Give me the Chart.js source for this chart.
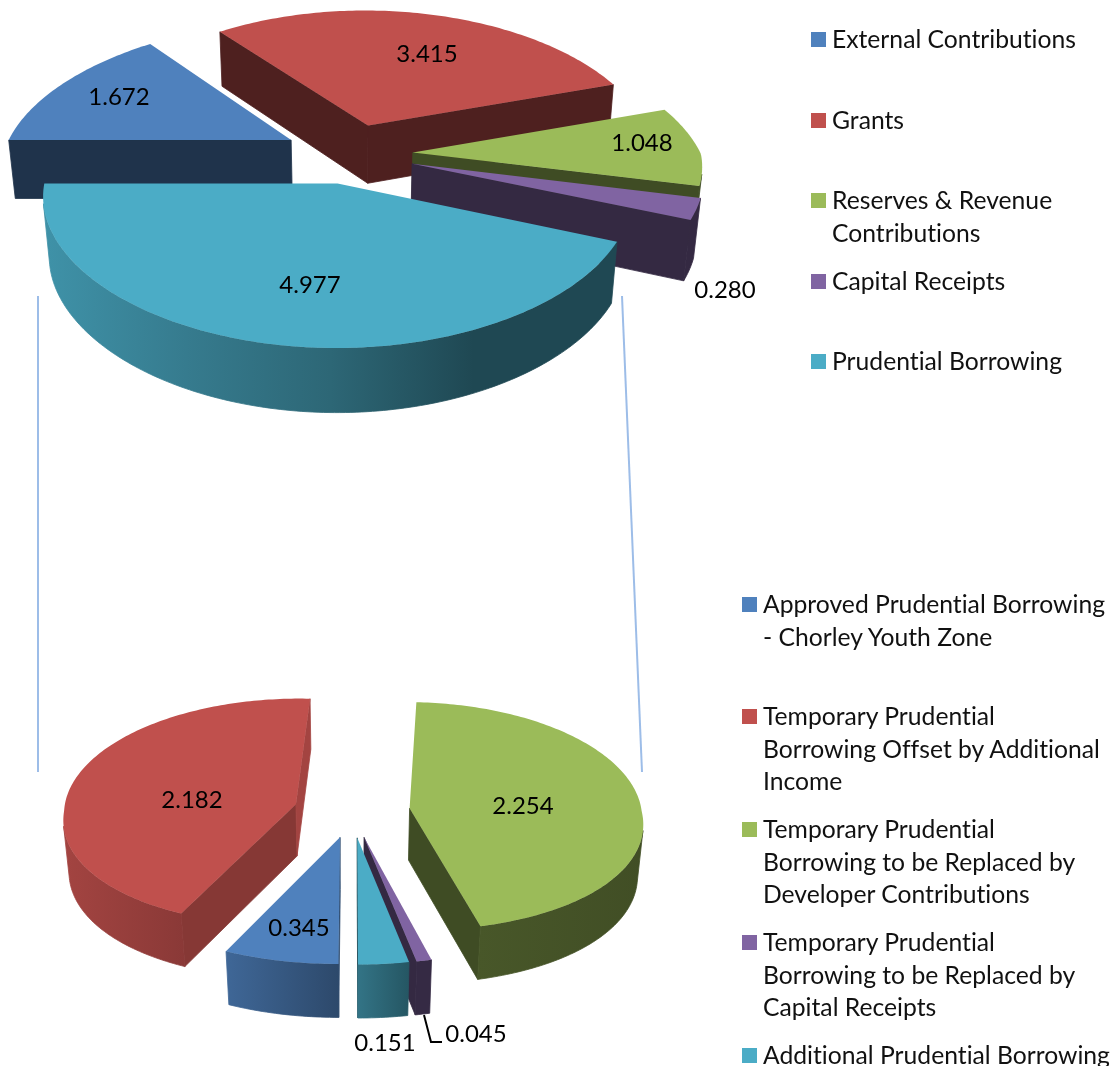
<!DOCTYPE html>
<html><head><meta charset="utf-8">
<script src="https://cdn.jsdelivr.net/npm/chart.js@4"></script>
<style>
html,body{margin:0;padding:0;background:#fff;width:1115px;height:1066px;overflow:hidden}
canvas{position:absolute;left:0;top:0}
.lg{position:absolute;font:24.7px Lato,sans-serif;font-variant-ligatures:none;color:#111;line-height:32.5px;white-space:nowrap}
.sw{position:absolute;width:15px;height:15px}
</style></head><body>
<canvas id="top" width="1115" height="1066"></canvas>
<canvas id="bot" width="1115" height="1066"></canvas>
<script>
const COLORS=["#4F81BD","#C0504D","#9BBB59","#8064A2","#4BACC6"];
const CATEGORIES_TOP=["External Contributions","Grants","Reserves & Revenue Contributions","Capital Receipts","Prudential Borrowing"];
const VALUES_TOP=[1.672,3.415,1.048,0.280,4.977];
const LABELS_TOP=["1.672","3.415","1.048","0.280","4.977"];
const CATEGORIES_BOTTOM=["Approved Prudential Borrowing - Chorley Youth Zone","Temporary Prudential Borrowing Offset by Additional Income","Temporary Prudential Borrowing to be Replaced by Developer Contributions","Temporary Prudential Borrowing to be Replaced by Capital Receipts","Additional Prudential Borrowing"];
const VALUES_BOTTOM=[0.345,2.182,2.254,0.045,0.151];
const LABELS_BOTTOM=["0.345","2.182","2.254","0.045","0.151"];
const LEGEND_LINES_TOP=[["External Contributions"],["Grants"],["Reserves & Revenue","Contributions"],["Capital Receipts"],["Prudential Borrowing"]];
const LEGEND_LINES_BOTTOM=[["Approved Prudential Borrowing","- Chorley Youth Zone"],["Temporary Prudential","Borrowing Offset by Additional","Income"],["Temporary Prudential","Borrowing to be Replaced by","Developer Contributions"],["Temporary Prudential","Borrowing to be Replaced by","Capital Receipts"],["Additional Prudential Borrowing"]];

const VIEW_TOP={cx:350,cy:154,R:288,explode:[67,65,63,65,62],rotation:270,k:.472,p:.125,pxBack:.19,pxFront:.085,q:.02,d:60,
  order:[0,1,2,3,4],
  wall:[[.4,.4],[.41,.41],[.41,.41],[.41,.41],[.42,.42]],
  rim:[[.4,.4],[.41,.41],[.41,.41],[.41,.41],[.85,.72,.6,.42,.42]],
  labelPos:[[119,97],[427,54],[642,143],[725,290],[310,285]],
  lines:[{c:"#9DBDE8",w:2,p:[[38,296],[38,772]]},{c:"#9DBDE8",w:2,p:[[622,296],[642,772]]}]};
const VIEW_BOTTOM={cx:352,cy:811,R:232,explode:[54,58,58,54,54],rotation:180,k:.491,p:.07,pxBack:.07,pxFront:.115,q:.02,d:53,
  order:[1,2,0,3,4],
  wall:[[.6,.6],[.7,.85],[.41,.41],[.41,.41],[.41,.41]],
  rim:[[.8,.57],[.85,.72],[.47,.42],[.42,.42],[.68,.5]],
  labelPos:[[299,928],[192,800],[523,806],[476,1034],[385,1043]],
  lines:[{c:"#000",w:2,p:[[424,1015],[431,1042],[442,1042]]}]};

function shade(hex,f){const n=parseInt(hex.slice(1),16);
  return `rgb(${((n>>16&255)*f)|0},${((n>>8&255)*f)|0},${((n&255)*f)|0})`;}
function poly(ctx,pts,fill,seal){ctx.beginPath();pts.forEach((p,i)=>i?ctx.lineTo(p[0],p[1]):ctx.moveTo(p[0],p[1]));ctx.closePath();ctx.fillStyle=fill;ctx.fill();
  if(seal){ctx.strokeStyle=fill;ctx.lineWidth=.8;ctx.stroke();}}
function area(q){let a=0;for(let i=0;i<q.length;i++){const u=q[i],v=q[(i+1)%q.length];a+=u[0]*v[1]-v[0]*u[1];}return a/2;}

const pie3d={id:"pie3d",
  beforeDatasetDraw(chart,args,v){
    const ctx=chart.ctx,arcs=chart.getDatasetMeta(0).data;
    v.order.forEach(i=>{
      const arc=arcs[i],o=arc.options;
      const {x:cx,y:cy,startAngle:a0,endAngle:a1,outerRadius:R}=arc.getProps(["x","y","startAngle","endAngle","outerRadius"]);
      const base=o.backgroundColor,mid=(a0+a1)/2,off=(o.offset||0)/4;
      const ox=Math.cos(mid)*off,oy=Math.sin(mid)*off;
      const P=(X,Y,z)=>{
        const s=1/(1-v.p*Y/R+v.q*z);
        const sx=1/(1-(Y<0?v.pxBack:v.pxFront)*Y/R+v.q*z);
        return [cx+X*sx,cy+(v.k*Y+v.d*z)*s];};
      const n=Math.max(2,Math.ceil((a1-a0)/(Math.PI/180)));
      const top=[],bot=[];
      for(let j=0;j<=n;j++){const a=a0+(a1-a0)*j/n,X=ox+R*Math.cos(a),Y=oy+R*Math.sin(a);top.push(P(X,Y,0));bot.push(P(X,Y,1));}
      const A0=P(ox,oy,0),A1=P(ox,oy,1);
      const w1=[A0,top[0],bot[0],A1],w2=[top[n],A0,A1,bot[n]];
      if(area(w1)<0)poly(ctx,w1,shade(base,v.wall[i][0]),true);
      if(area(w2)<0)poly(ctx,w2,shade(base,v.wall[i][1]),true);
      let first=-1,last=-1;
      for(let j=0;j<n;j++){if(area([top[j],top[j+1],bot[j+1],bot[j]])<0){if(first<0)first=j;last=j+1;}}
      if(first>=0){
        const T=top.slice(first,last+1),B=bot.slice(first,last+1);
        const xs=T.concat(B).map(p=>p[0]),xa=Math.min(...xs),xb=Math.max(...xs);
        const g=ctx.createLinearGradient(xa,0,xb,0),st=v.rim[i];
        st.forEach((f,j)=>g.addColorStop(j/(st.length-1),shade(base,f)));
        poly(ctx,T.concat(B.reverse()),g,true);
      }
      poly(ctx,[A0].concat(top),base);
    });
    return false;
  },
  afterDraw(chart,args,v){
    const ctx=chart.ctx;
    v.lines.forEach(l=>{ctx.beginPath();l.p.forEach((p,i)=>i?ctx.lineTo(p[0],p[1]):ctx.moveTo(p[0],p[1]));ctx.strokeStyle=l.c;ctx.lineWidth=l.w;ctx.stroke();});
    ctx.font="24px Lato, sans-serif";ctx.fillStyle="#000";ctx.textAlign="center";ctx.textBaseline="middle";
    v.labelText.forEach((t,i)=>ctx.fillText(t,v.labelPos[i][0],v.labelPos[i][1]));
  }};

function makePie(id,cats,vals,labels,v){
  return new Chart(document.getElementById(id),{type:"pie",plugins:[pie3d],
    data:{labels:cats,datasets:[{data:vals,backgroundColor:COLORS,borderWidth:0,radius:v.R,offset:v.explode.map(e=>e*4)}]},
    options:{responsive:false,animation:false,rotation:v.rotation,
      layout:{padding:{right:Math.max(0,1115-2*v.cx),left:Math.max(0,2*v.cx-1115),bottom:Math.max(0,1066-2*v.cy),top:Math.max(0,2*v.cy-1066)}},
      plugins:{legend:{display:false},tooltip:{enabled:false},pie3d:Object.assign({labelText:labels},v)}}});
}
makePie("top",CATEGORIES_TOP,VALUES_TOP,LABELS_TOP,VIEW_TOP);
makePie("bot",CATEGORIES_BOTTOM,VALUES_BOTTOM,LABELS_BOTTOM,VIEW_BOTTOM);

const LEGEND_LAYOUT_TOP={swatchX:811,textX:832,firstLineY:[39,120,200,281,361]};
const LEGEND_LAYOUT_BOTTOM={swatchX:742,textX:763,firstLineY:[604,716,829,942,1055]};
function legend(lines,lay){
  lines.forEach((ls,i)=>{
    const y=lay.firstLineY[i];
    const s=document.createElement("div");s.className="sw";s.style.left=lay.swatchX+"px";s.style.top=(y-7)+"px";s.style.background=COLORS[i];document.body.appendChild(s);
    const t=document.createElement("div");t.className="lg";t.style.left=lay.textX+"px";t.style.top=(y-16)+"px";t.innerHTML=ls.map(x=>x.replace(/&/g,"&amp;")).join("<br>");document.body.appendChild(t);
  });
}
legend(LEGEND_LINES_TOP,LEGEND_LAYOUT_TOP);
legend(LEGEND_LINES_BOTTOM,LEGEND_LAYOUT_BOTTOM);
</script></body></html>
